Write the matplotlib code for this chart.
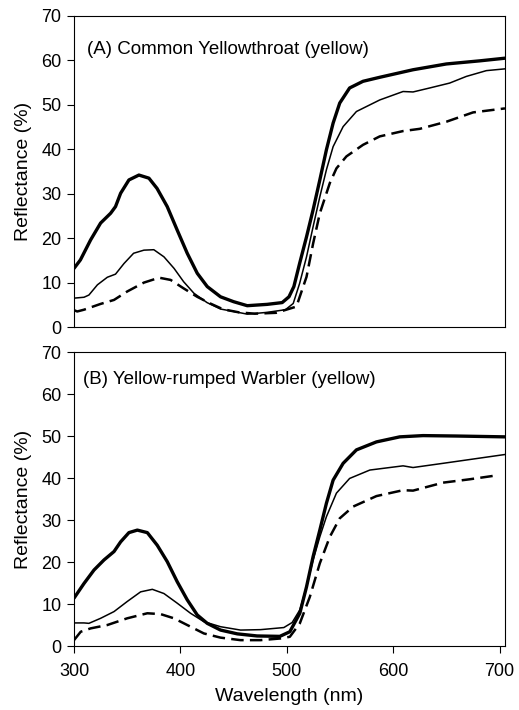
import numpy as np
import matplotlib.pyplot as plt

plt.rcParams['font.family'] = ['Liberation Sans', 'DejaVu Sans']

# (A) Common Yellowthroat -- thick solid, thin solid, dashed
a_thick_x = [300, 306, 315.6, 325, 334.4, 339, 343.8, 351.6, 361, 370.4, 378, 387.6, 397, 406.4,
             415.8, 425.2, 437.7, 450, 462.8, 481.5, 495.6, 502, 506.6, 512, 518.5, 524.7,
             531, 537.2, 543.5, 549.7, 559, 571.6, 587.3, 618.6, 649.9, 681.2, 705]
a_thick_y = [13.2, 15.1, 19.6, 23.4, 25.6, 27.1, 30.1, 33.1, 34.2, 33.5, 31.2, 27.1, 21.8, 16.6,
             12.1, 9.1, 6.8, 5.7, 4.8, 5.1, 5.5, 6.8, 9.1, 14.3, 20.3, 26.4,
             33.1, 39.9, 45.9, 50.4, 53.8, 55.3, 56.2, 57.9, 59.2, 59.9, 60.5]
a_thin_x = [300, 309.4, 314, 322, 331.3, 339, 347, 356, 365.7, 375, 384.5, 394, 403, 412.7,
            425, 437.7, 450, 462.8, 481.5, 498.7, 506, 512, 518.5, 524.7, 531, 537.2, 543.5,
            552.9, 565.4, 587.3, 609.2, 618.6, 634.3, 653, 668.7, 687.5, 705]
a_thin_y = [6.5, 6.7, 7.2, 9.5, 11.2, 11.9, 14.3, 16.6, 17.3, 17.4, 15.8, 13.2, 10.2, 7.6,
            5.5, 4.05, 3.5, 2.9, 3.3, 3.9, 5.3, 9.8, 15.8, 22.6, 29.3, 35.4, 40.6,
            45.1, 48.5, 51.1, 53, 52.9, 53.8, 54.9, 56.4, 57.7, 58.1]
a_dash_x = [300, 303, 309.4, 325, 337.6, 350, 365.7, 380, 390.8, 403, 415.8, 428, 440, 455,
            470, 490, 509, 518.5, 524.7, 531, 540.4, 546.6, 556, 571.6, 587.3, 609.2, 624.9,
            649.9, 675, 705]
a_dash_y = [3.8, 3.5, 3.9, 5.2, 6.1, 8, 10, 11.1, 10.6, 8.7, 6.8, 5.3, 4, 3.3,
            3, 3.2, 4.6, 11.3, 18.8, 25.6, 32.4, 35.7, 38.4, 41, 42.9, 44.1, 44.6,
            46.2, 48.3, 49.2]

# (B) Yellow-rumped Warbler -- thick solid, thin solid, dashed
b_thick_x = [300, 309.4, 318.8, 328.2, 337.6, 343.8, 351.6, 359.5, 368.9, 378.2, 387.6, 397,
             406.4, 415.8, 425.2, 437.7, 453.4, 472, 493.4, 502.8, 512.2, 518.5, 524.7, 531,
             537.2, 543.5, 552.9, 565.4, 584.2, 606.1, 628, 659.3, 705]
b_thick_y = [11.4, 14.9, 18.1, 20.5, 22.5, 24.8, 27, 27.6, 27, 24, 20.1, 15.3,
             11, 7.4, 5.4, 3.8, 2.9, 2.4, 2.3, 3.4, 7.8, 14.1, 21.3, 27.6,
             34, 39.5, 43.5, 46.7, 48.6, 49.8, 50.1, 50, 49.8]
b_thin_x = [300, 309.4, 314, 325, 337.6, 350, 362.6, 373.6, 384.5, 397, 409.5, 422, 437.7,
            456.5, 475.3, 497.2, 505, 512.2, 518.5, 524.7, 531, 537.2, 546.6, 559, 578,
            609.2, 618.6, 646.8, 671.8, 705]
b_thin_y = [5.5, 5.5, 5.4, 6.6, 8.2, 10.6, 12.9, 13.5, 12.5, 10.2, 7.8, 5.8, 4.6,
            3.8, 3.9, 4.4, 5.6, 8.6, 14.1, 20.5, 26, 30.8, 36.4, 39.9, 41.9,
            42.9, 42.5, 43.5, 44.4, 45.6]
b_dash_x = [300, 306.3, 315.6, 331.3, 350, 368.9, 381.4, 393.9, 406.4, 422, 437.7, 456.5,
            475.3, 494, 502.8, 512.2, 521.6, 531, 540.4, 549.7, 562.3, 584.2, 609.2, 618.6,
            646.8, 671.8, 693.7]
b_dash_y = [1.4, 3.4, 4.2, 5, 6.6, 7.8, 7.6, 6.6, 5, 3, 2, 1.4,
            1.4, 1.8, 2.2, 5.4, 11.7, 19.7, 26, 30.4, 33.2, 35.7, 37.1, 37,
            38.9, 39.7, 40.5]

panels = [
    ('(A) Common Yellowthroat (yellow)', a_thick_x, a_thick_y, a_thin_x, a_thin_y, a_dash_x, a_dash_y),
    ('(B) Yellow-rumped Warbler (yellow)', b_thick_x, b_thick_y, b_thin_x, b_thin_y, b_dash_x, b_dash_y),
]

fig = plt.figure(figsize=(5.19, 7.10), dpi=100)
ax_a = fig.add_axes([0.1426, 0.5394, 0.8304, 0.4381])
ax_b = fig.add_axes([0.1426, 0.0901, 0.8304, 0.4141])
text_pos = [(0.03, 0.92), (0.021, 0.935)]

for ax, p, tp in zip([ax_a, ax_b], panels, text_pos):
    label, tx, ty, nx, ny, dx, dy = p
    ax.plot(tx, ty, color='black', lw=2.4, solid_joinstyle='round', solid_capstyle='round')
    ax.plot(nx, ny, color='black', lw=1.1, solid_joinstyle='round')
    ax.plot(dx, dy, color='black', lw=1.8, dashes=(5, 2.5), dash_joinstyle='round')
    ax.set_xlim(300, 705)
    ax.set_ylim(0, 70)
    ax.set_yticks(np.arange(0, 71, 10))
    ax.set_ylabel('Reflectance (%)', fontsize=14, labelpad=7)
    ax.text(tp[0], tp[1], label, transform=ax.transAxes, fontsize=13.5, va='top', ha='left')
    ax.tick_params(direction='out', length=5, width=0.8, labelsize=13)
    ax.tick_params(axis='y', pad=4)
    for s in ax.spines.values():
        s.set_linewidth(0.8)

ax_a.tick_params(axis='x', bottom=False, labelbottom=False)
ax_b.set_xticks([300, 400, 500, 600, 700])
ax_b.tick_params(axis='x', pad=7)
ax_b.set_xlabel('Wavelength (nm)', fontsize=14, labelpad=6)

fig.savefig('out.png', dpi=100)
